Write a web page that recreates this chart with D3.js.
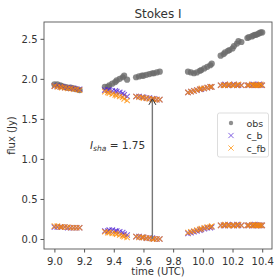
<!DOCTYPE html>
<html>
<head>
<meta charset="utf-8">
<script src="https://cdn.jsdelivr.net/npm/d3@7"></script>
<style>
  body { margin: 0; background: #fff; }
  text { font-family: "DejaVu Sans", sans-serif; fill: #333; }
</style>
</head>
<body>
<div id="chart"></div>
<script>
// time (UTC) of each sample, grouped by scan
const times = [
  9.00, 9.02, 9.04, 9.05, 9.07, 9.09, 9.11, 9.13, 9.15, 9.17,
  9.34, 9.36, 9.37, 9.39, 9.41, 9.42, 9.44, 9.46, 9.47, 9.49,
  9.55, 9.57, 9.59, 9.60, 9.62, 9.64, 9.66, 9.67, 9.69, 9.71,
  9.90, 9.92, 9.94, 9.96, 9.98, 9.99, 10.01, 10.03, 10.05, 10.06,
  10.12, 10.14, 10.15, 10.17, 10.18, 10.20, 10.21, 10.23, 10.24, 10.26,
  10.30, 10.31, 10.33, 10.34, 10.35, 10.36, 10.37, 10.38, 10.39, 10.40
];
const obs = [
  1.93, 1.93, 1.92, 1.91, 1.90, 1.89, 1.89, 1.88, 1.87, 1.86,
  1.90, 1.90, 1.92, 1.94, 1.96, 1.98, 2.00, 2.02, 2.04, 1.99,
  2.02, 2.03, 2.04, 2.04, 2.05, 2.06, 2.07, 2.07, 2.08, 2.09,
  2.09, 2.08, 2.07, 2.08, 2.10, 2.11, 2.13, 2.15, 2.17, 2.19,
  2.29, 2.31, 2.33, 2.35, 2.36, 2.38, 2.41, 2.44, 2.47, 2.46,
  2.51, 2.52, 2.53, 2.54, 2.55, 2.55, 2.56, 2.57, 2.58, 2.58
];
const cbHigh = [
  1.91, 1.91, 1.90, 1.90, 1.89, 1.89, 1.88, 1.88, 1.87, 1.87,
  1.86, 1.86, 1.86, 1.85, 1.85, 1.84, 1.83, 1.82, 1.80, 1.78,
  1.78, 1.78, 1.77, 1.77, 1.76, 1.76, 1.75, 1.75, 1.74, 1.74,
  1.83, 1.84, 1.85, 1.86, 1.87, 1.87, 1.88, 1.89, 1.90, 1.90,
  1.92, 1.92, 1.93, 1.92, 1.92, 1.92, 1.93, 1.92, 1.92, 1.92,
  1.92, 1.92, 1.92, 1.93, 1.92, 1.92, 1.92, 1.93, 1.92, 1.92
];
const cbLow = [
  0.15, 0.15, 0.15, 0.15, 0.15, 0.14, 0.14, 0.14, 0.14, 0.14,
  0.10, 0.10, 0.11, 0.11, 0.10, 0.10, 0.09, 0.08, 0.06, 0.05,
  0.03, 0.03, 0.02, 0.02, 0.01, 0.01, 0.01, 0.00, 0.00, 0.00,
  0.07, 0.08, 0.09, 0.10, 0.11, 0.12, 0.13, 0.14, 0.14, 0.15,
  0.17, 0.17, 0.17, 0.18, 0.17, 0.17, 0.17, 0.18, 0.17, 0.17,
  0.17, 0.17, 0.17, 0.17, 0.18, 0.17, 0.17, 0.17, 0.17, 0.17
];
const cfbHigh = [
  1.91, 1.90, 1.90, 1.89, 1.89, 1.88, 1.88, 1.87, 1.87, 1.86,
  1.84, 1.83, 1.82, 1.81, 1.80, 1.79, 1.78, 1.77, 1.75, 1.73,
  1.78, 1.77, 1.77, 1.76, 1.76, 1.75, 1.75, 1.74, 1.74, 1.74,
  1.83, 1.84, 1.85, 1.86, 1.87, 1.88, 1.88, 1.89, 1.90, 1.90,
  1.92, 1.92, 1.92, 1.92, 1.93, 1.92, 1.92, 1.92, 1.93, 1.92,
  1.92, 1.92, 1.93, 1.92, 1.92, 1.92, 1.92, 1.92, 1.93, 1.92
];
const cfbLow = [
  0.16, 0.16, 0.15, 0.15, 0.15, 0.15, 0.14, 0.14, 0.14, 0.14,
  0.09, 0.08, 0.08, 0.07, 0.07, 0.06, 0.05, 0.04, 0.03, 0.02,
  0.03, 0.02, 0.02, 0.02, 0.01, 0.01, 0.00, 0.00, 0.00, 0.00,
  0.08, 0.09, 0.10, 0.11, 0.12, 0.13, 0.14, 0.15, 0.15, 0.16,
  0.17, 0.17, 0.18, 0.17, 0.17, 0.17, 0.17, 0.17, 0.18, 0.17,
  0.17, 0.17, 0.17, 0.18, 0.17, 0.17, 0.17, 0.17, 0.17, 0.17
];
const xTicks = [9.0, 9.2, 9.4, 9.6, 9.8, 10.0, 10.2, 10.4];
const yTicks = [0.0, 0.5, 1.0, 1.5, 2.0, 2.5];
const iSha = 1.75;
const arrowTime = 9.66;

const W = 277, H = 277;
const margin = { top: 22, right: 5, bottom: 28, left: 44 };
const width = W - margin.left - margin.right;
const height = H - margin.top - margin.bottom;

const svg = d3.select('#chart')
  .append('svg')
  .attr('width', W)
  .attr('height', H);

const g = svg.append('g')
  .attr('transform', `translate(${margin.left},${margin.top})`);

const x = d3.scaleLinear().domain([8.93, 10.466]).range([0, width]);
const y = d3.scaleLinear().domain([-0.125, 2.71]).range([height, 0]);

const purple = '#5024d6';
const orange = '#ff8c00';
const grey = '#6a6a6a';

// observed points
g.selectAll('.obs')
  .data(times.map((t, i) => [t, obs[i]]))
  .enter()
  .append('circle')
  .attr('class', 'obs')
  .attr('cx', d => x(d[0]))
  .attr('cy', d => y(d[1]))
  .attr('r', 3.1)
  .attr('fill', grey)
  .attr('fill-opacity', 0.8);

function crosses(vals, color, cls) {
  const s = 2.7;
  g.selectAll('.' + cls)
    .data(times.map((t, i) => [t, vals[i]]))
    .enter()
    .append('path')
    .attr('class', cls)
    .attr('d', d => {
      const px = x(d[0]), py = y(d[1]);
      return `M${px - s},${py - s}L${px + s},${py + s}M${px - s},${py + s}L${px + s},${py - s}`;
    })
    .attr('stroke', color)
    .attr('stroke-width', 1.1)
    .attr('stroke-opacity', 0.75)
    .attr('fill', 'none');
}
crosses(cbHigh, purple, 'cbh');
crosses(cbLow, purple, 'cbl');
crosses(cfbHigh, orange, 'cfh');
crosses(cfbLow, orange, 'cfl');

// annotation arrow
g.append('line')
  .attr('x1', x(arrowTime)).attr('x2', x(arrowTime))
  .attr('y1', y(0)).attr('y2', y(iSha) + 1)
  .attr('stroke', '#777')
  .attr('stroke-width', 1.4);
g.append('path')
  .attr('d', `M${x(arrowTime) - 3.5},${y(iSha) + 6}L${x(arrowTime)},${y(iSha)}L${x(arrowTime) + 3.5},${y(iSha) + 6}`)
  .attr('fill', 'none')
  .attr('stroke', '#333')
  .attr('stroke-width', 1);

const label = g.append('text')
  .attr('x', x(9.612))
  .attr('y', y(1.13))
  .attr('text-anchor', 'end')
  .style('font-size', '10.5px');
label.append('tspan').style('font-style', 'italic').text('I');
label.append('tspan').style('font-style', 'italic').style('font-size', '7.5px').attr('dy', 2).text('sha');
label.append('tspan').attr('dy', -2).text(' = ' + iSha.toFixed(2));

// axes
const xAxis = g.append('g')
  .attr('transform', `translate(0,${height})`)
  .call(d3.axisBottom(x).tickValues(xTicks).tickFormat(d3.format('.1f')).tickSizeOuter(0).tickSize(3.5));
const yAxis = g.append('g')
  .call(d3.axisLeft(y).tickValues(yTicks).tickFormat(d3.format('.1f')).tickSizeOuter(0).tickSize(3.5));

[xAxis, yAxis].forEach(a => {
  a.select('.domain').remove();
  a.selectAll('line').attr('stroke', '#555');
  a.selectAll('text').style('font-size', '10px').attr('fill', '#333');
});
xAxis.selectAll('text').attr('dy', '0.9em');

// frame
g.append('rect')
  .attr('width', width).attr('height', height)
  .attr('fill', 'none')
  .attr('stroke', '#555')
  .attr('stroke-width', 0.9);

// titles
svg.append('text')
  .attr('x', margin.left + width / 2).attr('y', 18)
  .attr('text-anchor', 'middle')
  .style('font-size', '12px')
  .text('Stokes I');
svg.append('text')
  .attr('x', margin.left + width / 2).attr('y', 275)
  .attr('text-anchor', 'middle')
  .style('font-size', '10px')
  .text('time (UTC)');
svg.append('text')
  .attr('transform', `translate(15,${margin.top + height / 2}) rotate(-90)`)
  .attr('text-anchor', 'middle')
  .style('font-size', '10px')
  .text('flux (Jy)');

// legend
const lx = 217.5, ly = 113;
const legend = svg.append('g').attr('transform', `translate(${lx},${ly})`);
legend.append('rect')
  .attr('width', 51).attr('height', 44).attr('rx', 2)
  .attr('fill', '#fff').attr('fill-opacity', 0.8)
  .attr('stroke', '#ddd');
const entries = [
  { name: 'obs', color: grey, type: 'dot' },
  { name: 'c_b', color: purple, type: 'x' },
  { name: 'c_fb', color: orange, type: 'x' }
];
entries.forEach((e, i) => {
  const ey = 10 + i * 12.5;
  if (e.type === 'dot') {
    legend.append('circle').attr('cx', 13.5).attr('cy', ey).attr('r', 2.2)
      .attr('fill', e.color).attr('fill-opacity', 0.75);
  } else {
    const s = 2.6;
    legend.append('path')
      .attr('d', `M${13.5 - s},${ey - s}L${13.5 + s},${ey + s}M${13.5 - s},${ey + s}L${13.5 + s},${ey - s}`)
      .attr('stroke', e.color).attr('stroke-opacity', 0.7).attr('stroke-width', 1);
  }
  legend.append('text')
    .attr('x', 29).attr('y', ey + 3.5)
    .style('font-size', '9.5px')
    .text(e.name);
});
</script>
</body>
</html>
